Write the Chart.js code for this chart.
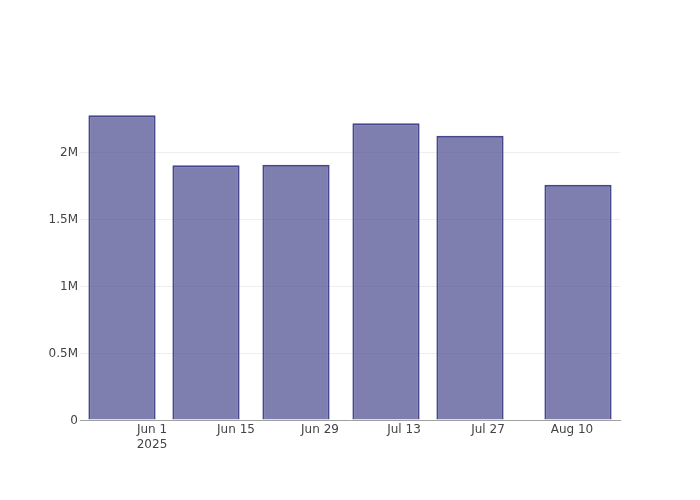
<!DOCTYPE html>
<html>
<head>
<meta charset="utf-8">
<script src="https://cdn.jsdelivr.net/npm/chart.js@4"></script>
<style>
  html, body { margin: 0; padding: 0; background: #fff; }
  #wrap { width: 700px; height: 500px; }
</style>
</head>
<body>
<div id="wrap"><canvas id="barChart"></canvas></div>
<script>
// Bar dates and values
const barDates = ['2025-05-27', '2025-06-10', '2025-06-25', '2025-07-10', '2025-07-24', '2025-08-11'];
const barValues = [2277000, 1903000, 1907000, 2217000, 2124000, 1757000];

// X axis ticks (every two weeks)
const xTickDates = ['2025-06-01', '2025-06-15', '2025-06-29', '2025-07-13', '2025-07-27', '2025-08-10'];
const xTickLabels = [['Jun 1', '2025'], 'Jun 15', 'Jun 29', 'Jul 13', 'Jul 27', 'Aug 10'];
const xRange = ['2025-05-20', '2025-08-18'];

// Y axis ticks
const yTicks = [0, 500000, 1000000, 1500000, 2000000];
const yTickLabels = ['0', '0.5M', '1M', '1.5M', '2M'];
const yMax = 2391000;

// days since Jun 1 2025, so the linear axis works without a date adapter
const origin = Date.UTC(2025, 5, 1);
function toDay(s) {
    const p = s.split('-').map(Number);
    return (Date.UTC(p[0], p[1] - 1, p[2]) - origin) / 86400000;
}

const points = barDates.map((d, i) => ({ x: toDay(d), y: barValues[i] }));
const xTickDays = xTickDates.map(toDay);

const font = { family: '"DejaVu Sans", sans-serif', size: 12 };

new Chart(document.getElementById('barChart').getContext('2d'), {
    type: 'bar',
    data: {
        datasets: [{
            data: points,
            backgroundColor: 'rgba(73, 73, 141, 0.7)',
            borderColor: 'rgba(60, 60, 135, 0.95)',
            borderWidth: 2,
            barPercentage: 0.8,
            categoryPercentage: 1
        }]
    },
    options: {
        responsive: true,
        maintainAspectRatio: false,
        animation: false,
        layout: { padding: { top: 100, right: 80, left: 0, bottom: 0 } },
        plugins: {
            legend: { display: false },
            tooltip: { enabled: false }
        },
        scales: {
            x: {
                type: 'linear',
                offset: false,
                min: toDay(xRange[0]),
                max: toDay(xRange[1]),
                afterBuildTicks: function(axis) {
                    axis.ticks = xTickDays.map(v => ({ value: v }));
                },
                afterFit: function(axis) { axis.height = 80; },
                grid: { display: false, drawTicks: false, offset: false },
                border: { display: true, color: '#a0a0a0', width: 1 },
                ticks: {
                    padding: 3,
                    color: '#444',
                    font: font,
                    maxRotation: 0,
                    autoSkip: false,
                    callback: function(value) {
                        const i = xTickDays.indexOf(value);
                        return i >= 0 ? xTickLabels[i] : '';
                    }
                }
            },
            y: {
                min: 0,
                max: yMax,
                afterBuildTicks: function(axis) {
                    axis.ticks = yTicks.map(v => ({ value: v }));
                },
                afterFit: function(axis) { axis.width = 80; },
                grid: { color: '#eeeeee', lineWidth: 1, drawTicks: false },
                border: { display: false },
                ticks: {
                    padding: 2,
                    labelOffset: 1,
                    color: '#444',
                    font: font,
                    callback: function(value) {
                        const i = yTicks.indexOf(value);
                        return i >= 0 ? yTickLabels[i] : '';
                    }
                }
            }
        }
    }
});
</script>
</body>
</html>
